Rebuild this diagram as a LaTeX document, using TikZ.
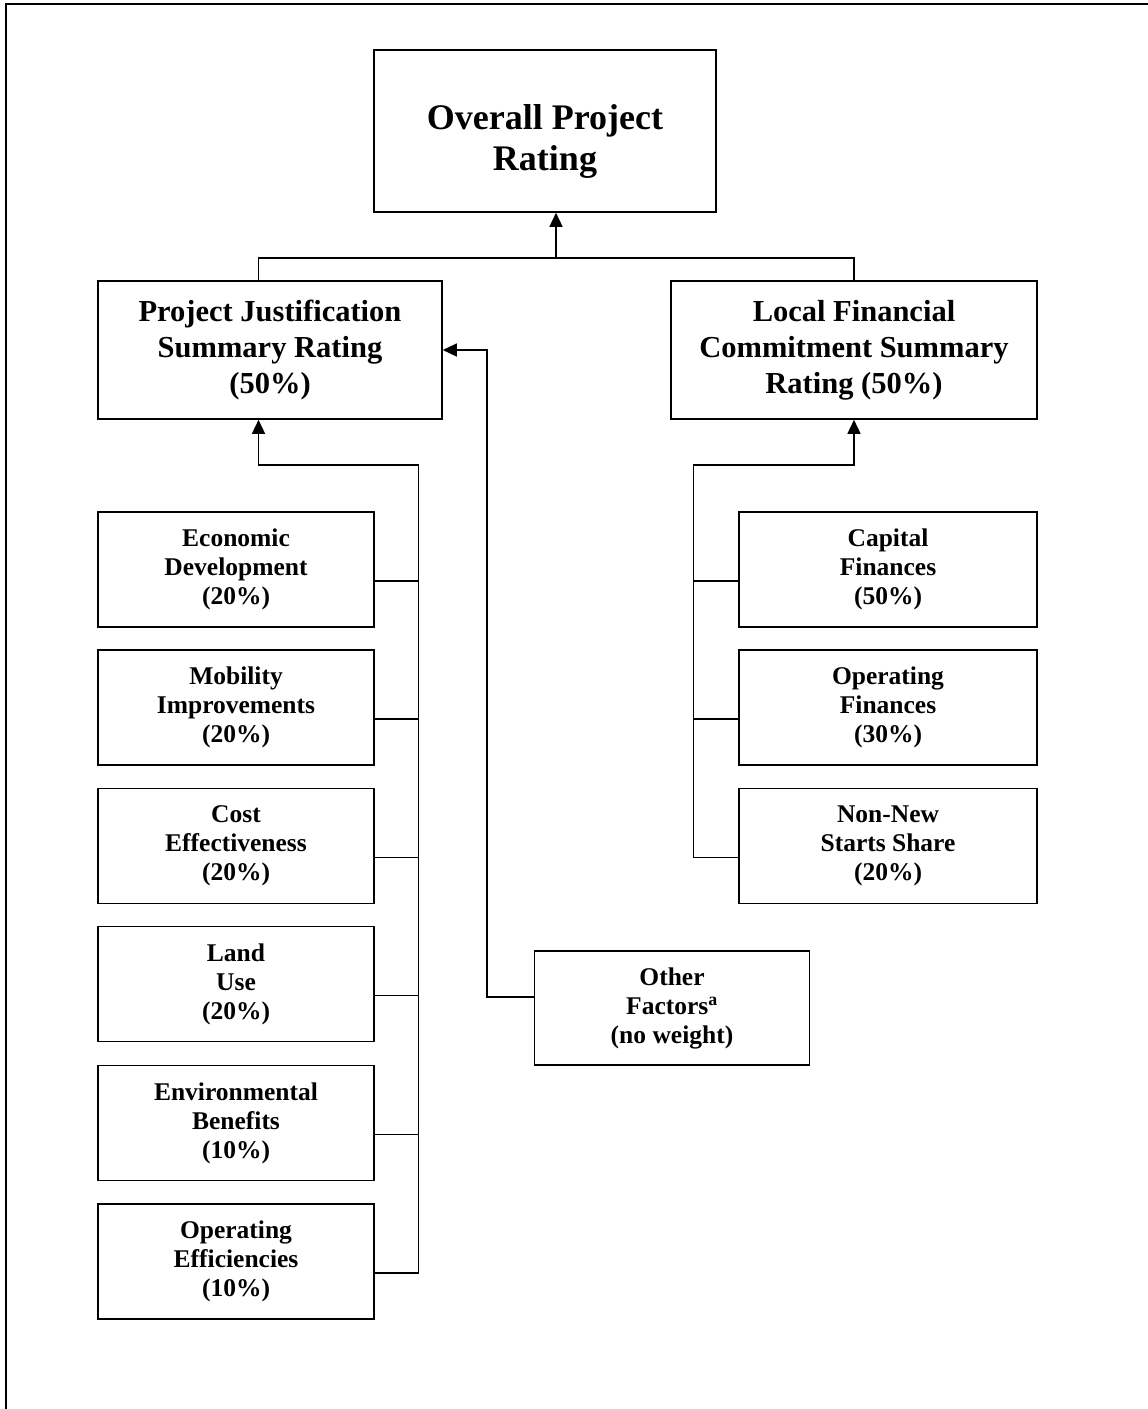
\documentclass[tikz,border=0pt]{standalone}
\usepackage{fontspec}
\setmainfont{Liberation Serif}
\usetikzlibrary{arrows.meta}
\begin{document}
\begin{tikzpicture}[x=1pt,y=-1pt,
  box/.style={draw, line width=1.6pt, inner sep=0pt, align=center},
  bigbox/.style={box, font=\fontsize{30.5}{36}\selectfont\bfseries, minimum height=138pt},
  smallbox/.style={box, minimum width=276pt, minimum height=115pt, font=\fontsize{25.5}{29}\selectfont\bfseries},
  rbox/.style={smallbox, minimum width=298pt},
  conn/.style={line width=1.5pt},
  arr/.style={conn, -{Triangle[length=14pt,width=13pt]}}]
\useasboundingbox (0,0) rectangle (1148,1409);
\draw[line width=2.2pt] (1148,4) -- (6,4) -- (6,1409);

\node[box, minimum width=342pt, minimum height=162pt, font=\fontsize{36}{41}\selectfont\bfseries] (ovr) at (545,131) {\rule{0pt}{46pt}Overall Project\\Rating};

\node[bigbox, minimum width=344pt] (pj) at (270,350) {Project Justification\\Summary Rating\\(50\%)};
\node[bigbox, minimum width=366pt] (lfc) at (854,350) {Local Financial\\Commitment Summary\\Rating (50\%)};

\node[smallbox] (econ) at (236,569.5) {Economic\\Development\\(20\%)};
\node[smallbox] (mob) at (236,707.5) {Mobility\\Improvements\\(20\%)};
\node[smallbox] (cost) at (236,846) {Cost\\Effectiveness\\(20\%)};
\node[smallbox] (land) at (236,984) {Land\\Use\\(20\%)};
\node[smallbox] (env) at (236,1123) {Environmental\\Benefits\\(10\%)};
\node[smallbox] (opeff) at (236,1261.5) {Operating\\Efficiencies\\(10\%)};

\node[rbox] (cap) at (888,569.5) {Capital\\Finances\\(50\%)};
\node[rbox] (opf) at (888,707.5) {Operating\\Finances\\(30\%)};
\node[rbox] (nns) at (888,846) {Non-New\\Starts Share\\(20\%)};

\node[smallbox, minimum width=275pt, minimum height=114pt] (other) at (672,1008) {Other\\Factors\textsuperscript{a}\\(no weight)};

% top junction
\coordinate (j) at (556,258);
\coordinate (jl) at (258.5,258);
\coordinate (jr) at (854,258);
\draw[conn] (pj.north -| jl) -- (jl) -- (jr) -- (lfc.north -| jr);
\draw[arr] (j) -- (ovr.south -| j);

% left column
\coordinate (lt) at (418.5,465);
\draw[arr] ([yshift=-11.5pt]opeff.east -| lt) -- (lt) -- (lt -| jl) -- (pj.south -| jl);
\foreach \n in {econ,mob,cost,land,env,opeff}
  \draw[conn] ([yshift=-11.5pt]\n.east) -- ([yshift=-11.5pt]\n.east -| lt);

% right column
\coordinate (rt) at (693.5,465);
\draw[arr] ([yshift=-11.5pt]nns.west -| rt) -- (rt) -- (rt -| jr) -- (lfc.south -| jr);
\foreach \n in {cap,opf,nns}
  \draw[conn] ([yshift=-11.5pt]\n.west) -- ([yshift=-11.5pt]\n.west -| rt);

% other factors
\coordinate (ov) at (487,350);
\draw[arr] ([yshift=11pt]other.west) -- ([yshift=11pt]other.west -| ov) -- (ov) -- (pj.east |- ov);
\end{tikzpicture}
\end{document}
